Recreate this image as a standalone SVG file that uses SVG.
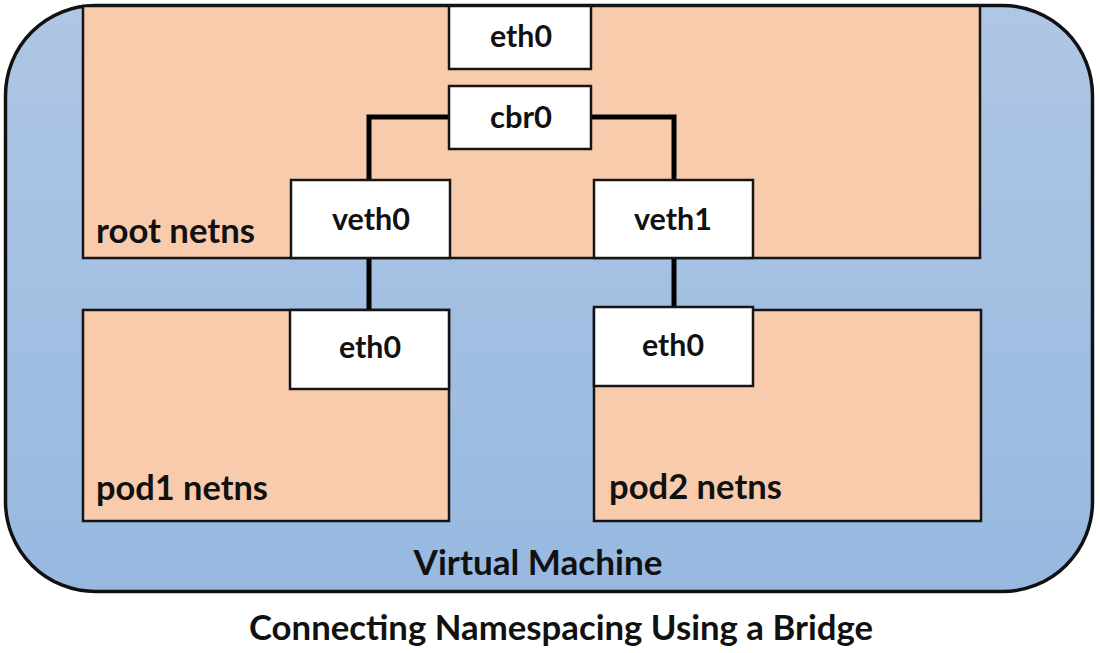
<svg xmlns="http://www.w3.org/2000/svg" width="1100" height="653" viewBox="0 0 1100 653">
<defs>
<linearGradient id="vmg" x1="0" y1="0" x2="0" y2="1">
<stop offset="0" stop-color="#AFC6E5"/>
<stop offset="1" stop-color="#97B9E0"/>
</linearGradient>
<style>
.ns{fill:#F8CBAD;stroke:#151515;stroke-width:2.5}
.box{fill:#FFFFFF;stroke:#151515;stroke-width:2.5}
.lbl{font-family:Lato,"Liberation Sans",sans-serif;font-weight:bold;font-size:30px;fill:#111;text-anchor:middle}
.big{font-family:Lato,"Liberation Sans",sans-serif;font-weight:bold;font-size:34px;fill:#111}
.wire{fill:none;stroke:#000;stroke-width:5}
</style>
</defs>
<rect width="1100" height="653" fill="#FFFFFF"/>
<g id="vm">
<rect x="5.5" y="5.5" width="1087" height="586" rx="90" ry="90" fill="url(#vmg)" stroke="#111" stroke-width="3.5"/>
<text class="big" x="538" y="575" text-anchor="middle" textLength="249" lengthAdjust="spacingAndGlyphs">Virtual Machine</text>
</g>
<g id="root-netns">
<rect class="ns" x="83" y="6" width="897" height="252"/>
<text class="big" x="96" y="243" textLength="159" lengthAdjust="spacingAndGlyphs">root netns</text>
</g>
<g id="pod1-netns">
<rect class="ns" x="83" y="310" width="366" height="211"/>
<text class="big" x="96" y="500" textLength="172" lengthAdjust="spacingAndGlyphs">pod1 netns</text>
</g>
<g id="pod2-netns">
<rect class="ns" x="594" y="310" width="387" height="211"/>
<text class="big" x="609" y="499" textLength="173" lengthAdjust="spacingAndGlyphs">pod2 netns</text>
</g>
<g id="connectors">
<polyline class="wire" points="449,117 369,117 369,180"/>
<polyline class="wire" points="591,117 674,117 674,180"/>
<line class="wire" x1="369" y1="258" x2="369" y2="310"/>
<line class="wire" x1="674" y1="258" x2="674" y2="307"/>
</g>
<g id="eth0-root">
<rect class="box" x="449" y="6" width="142" height="63"/>
<text class="lbl" x="521" y="47" textLength="62" lengthAdjust="spacingAndGlyphs">eth0</text>
</g>
<g id="cbr0">
<rect class="box" x="449" y="86" width="142" height="63"/>
<text class="lbl" x="521" y="128" textLength="62" lengthAdjust="spacingAndGlyphs">cbr0</text>
</g>
<g id="veth0">
<rect class="box" x="291" y="180" width="159" height="78"/>
<text class="lbl" x="371" y="230" textLength="78" lengthAdjust="spacingAndGlyphs">veth0</text>
</g>
<g id="veth1">
<rect class="box" x="594" y="180" width="159" height="78"/>
<text class="lbl" x="673" y="230" textLength="78" lengthAdjust="spacingAndGlyphs">veth1</text>
</g>
<g id="eth0-pod1">
<rect class="box" x="290" y="310" width="159" height="79"/>
<text class="lbl" x="370" y="358" textLength="62" lengthAdjust="spacingAndGlyphs">eth0</text>
</g>
<g id="eth0-pod2">
<rect class="box" x="594" y="307" width="159" height="79"/>
<text class="lbl" x="673" y="356" textLength="62" lengthAdjust="spacingAndGlyphs">eth0</text>
</g>
<text id="title" class="big" x="561" y="640" text-anchor="middle" font-size="33" textLength="624" lengthAdjust="spacingAndGlyphs">Connecting Namespacing Using a Bridge</text>
</svg>
